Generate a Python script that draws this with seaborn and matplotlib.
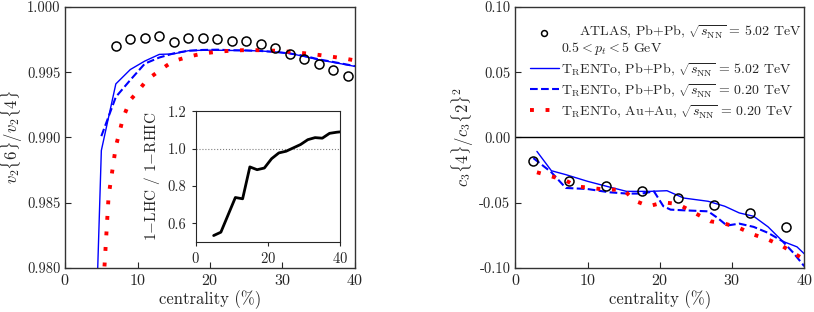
import numpy as np
import pandas as pd
import matplotlib
matplotlib.use('Agg')
import matplotlib.pyplot as plt
import seaborn as sns

sns.set_style('ticks')
plt.rcParams['font.family'] = 'serif'
plt.rcParams['font.serif'] = ['cmr10', 'DejaVu Serif']
plt.rcParams['mathtext.fontset'] = 'cm'
plt.rcParams['axes.formatter.use_mathtext'] = True
plt.rcParams['axes.unicode_minus'] = True

# ---- left panel: v2{6}/v2{4}
atlas_v2_x = [7, 9, 11, 13, 15, 17, 19, 21, 23, 25, 27, 29, 31, 33, 35, 37, 39]
atlas_v2_y = [0.99697, 0.99751, 0.99761, 0.99776, 0.99732, 0.99758, 0.99758, 0.99751,
              0.99738, 0.99735, 0.99713, 0.99684, 0.99641, 0.99598, 0.99562, 0.99514, 0.99468]

cent_v2 = [3, 5, 7, 9, 11, 13, 15, 17, 19, 21, 23, 25, 27, 29, 31, 33, 35, 37, 39, 40]
pbpb502_v2 = [0.953, 0.9890, 0.9941, 0.9952, 0.99585, 0.99636, 0.9964, 0.99664, 0.99668, 0.99668,
              0.99666, 0.99666, 0.99662, 0.99655, 0.99644, 0.99620, 0.99595, 0.99575, 0.99555, 0.99544]

cent_v2_dash = [5, 7, 9, 11, 13, 15, 17, 19, 21, 23, 25, 27, 29, 31, 33, 35, 37, 39, 40]
pbpb020_v2 = [0.9901, 0.9931, 0.9944, 0.99565, 0.99612, 0.99644, 0.99664, 0.99670, 0.99672, 0.99668,
              0.99666, 0.99662, 0.99655, 0.99643, 0.99625, 0.99598, 0.99578, 0.99557, 0.99546]

cent_v2_au = [5, 6, 7, 8, 9, 10, 11, 12, 13, 14, 15, 17, 19, 21, 23, 25, 27, 29, 31, 33, 35, 37, 39, 40]
auau020_v2 = [0.9760, 0.9855, 0.9893, 0.9915, 0.99287, 0.9935, 0.9942, 0.9947, 0.9951, 0.9955,
              0.99585, 0.99618, 0.99643, 0.99656, 0.99665, 0.99669, 0.99668, 0.99664, 0.99656,
              0.99645, 0.99632, 0.99617, 0.99600, 0.99590]

# inset: (1-LHC)/(1-RHIC)
inset_x = [5, 7, 9, 11, 13, 15, 17, 19, 21, 23, 25, 27, 29, 31, 33, 35, 37, 39, 40]
inset_y = [0.534, 0.552, 0.645, 0.738, 0.731, 0.902, 0.887, 0.896, 0.946, 0.977, 0.986,
           1.004, 1.022, 1.048, 1.059, 1.056, 1.082, 1.088, 1.090]

# ---- right panel: c3{4}/c3{2}^2
atlas_c3_x = [2.5, 7.5, 12.5, 17.5, 22.5, 27.5, 32.5, 37.5]
atlas_c3_y = [-0.0184, -0.0331, -0.0375, -0.0408, -0.0464, -0.0515, -0.0578, -0.0688]

cent_c3_solid = [3, 5, 7, 10, 12.7, 15.4, 18.7, 21, 23.3, 26.7, 29, 31, 33, 35, 37, 39, 40]
pbpb502_c3 = [-0.0107, -0.0255, -0.0285, -0.0336, -0.0375, -0.0413, -0.0413, -0.0408, -0.0464,
              -0.0489, -0.0527, -0.0578, -0.0604, -0.0685, -0.0795, -0.0838, -0.0891]

cent_c3_dash = [2.5, 5, 7, 10, 13, 15.5, 17.5, 19.2, 20.5, 21.5, 23.3, 26.7, 28, 29.3, 31, 33,
                35, 37, 38.5, 40]
pbpb020_c3 = [-0.0158, -0.0267, -0.0387, -0.0395, -0.042, -0.043, -0.043, -0.0413, -0.0527,
              -0.0553, -0.0558, -0.0566, -0.0616, -0.0675, -0.066, -0.0685, -0.0731, -0.0795,
              -0.0884, -0.0986]

cent_c3_au = [3, 5, 7, 8.5, 10.5, 12.5, 15, 16.5, 18.5, 20.5, 22.5, 25, 27, 29, 31, 33, 35, 37,
              38.5, 40]
auau020_c3 = [-0.0267, -0.0298, -0.033, -0.0375, -0.0387, -0.040, -0.040, -0.0484, -0.0527,
              -0.0497, -0.051, -0.0583, -0.0642, -0.066, -0.0693, -0.0744, -0.0782, -0.0833,
              -0.0884, -0.0935]

lab_atlas = (r'    ATLAS, Pb+Pb, $\sqrt{s_{\rm NN}}$ = 5.02 TeV' + '\n' +
             r'$0.5 < p_t < 5$ GeV')
trento = r'T$_{\rm R}$ENTo'
lab_502 = trento + r', Pb+Pb, $\sqrt{s_{\rm NN}}$ = 5.02 TeV'
lab_020 = trento + r', Pb+Pb, $\sqrt{s_{\rm NN}}$ = 0.20 TeV'
lab_au = trento + r', Au+Au, $\sqrt{s_{\rm NN}}$ = 0.20 TeV'

fig = plt.figure(figsize=(8.14, 3.12), dpi=100)
ax1 = fig.add_axes([0.080, 0.141, 0.356, 0.837])
ax2 = fig.add_axes([0.633, 0.141, 0.355, 0.837])

dot_style = (0, (1, 3))
label_fs = 12

# left
sns.lineplot(x=cent_v2, y=pbpb502_v2, ax=ax1, color='blue', lw=1.0, estimator=None, sort=False)
sns.lineplot(x=cent_v2_dash, y=pbpb020_v2, ax=ax1, color='blue', lw=1.5, ls='--',
             estimator=None, sort=False)
sns.lineplot(x=cent_v2_au, y=auau020_v2, ax=ax1, color='red', lw=2.8, ls=dot_style,
             estimator=None, sort=False)
ax1.plot(atlas_v2_x, atlas_v2_y, 'o', mfc='none', mec='black', ms=6.5, mew=1.1, zorder=5)
ax1.set_xlim(0, 40)
ax1.set_ylim(0.980, 1.000)
ax1.set_yticks([0.980, 0.985, 0.990, 0.995, 1.000])
ax1.yaxis.set_major_formatter(matplotlib.ticker.FormatStrFormatter('%.3f'))
ax1.set_xticks([0, 10, 20, 30, 40])
ax1.set_xlabel('centrality (%)', fontsize=label_fs, labelpad=2)
ax1.set_ylabel(r'$v_2\{6\}/v_2\{4\}$', fontsize=label_fs, labelpad=1)

ins = ax1.inset_axes([0.45, 0.10, 0.50, 0.50])
ins.axhline(1.0, color='gray', lw=0.8, ls=':')
sns.lineplot(x=inset_x, y=inset_y, ax=ins, color='black', lw=2.0, estimator=None, sort=False)
ins.set_xlim(0, 40)
ins.set_ylim(0.5, 1.2)
ins.set_xticks([0, 20, 40])
ins.set_yticks([0.6, 0.8, 1.0, 1.2])
ins.yaxis.set_major_formatter(matplotlib.ticker.FormatStrFormatter('%.1f'))
ins.tick_params(labelsize=10.5, direction='out', length=3)
ins.set_ylabel(r'1$-$LHC / 1$-$RHIC', fontsize=11)

# right
ax2.axhline(0, color='black', lw=1.0)
sns.lineplot(x=cent_c3_solid, y=pbpb502_c3, ax=ax2, color='blue', lw=1.0, estimator=None,
             sort=False, label=lab_502)
sns.lineplot(x=cent_c3_dash, y=pbpb020_c3, ax=ax2, color='blue', lw=1.5, ls='--',
             estimator=None, sort=False, label=lab_020)
sns.lineplot(x=cent_c3_au, y=auau020_c3, ax=ax2, color='red', lw=2.8, ls=dot_style,
             estimator=None, sort=False, label=lab_au)
ax2.plot(atlas_c3_x, atlas_c3_y, 'o', mfc='none', mec='black', ms=6.5, mew=1.1, zorder=5,
         label=lab_atlas)
ax2.set_xlim(0, 40)
ax2.set_ylim(-0.10, 0.10)
ax2.set_yticks([-0.10, -0.05, 0.00, 0.05, 0.10])
ax2.yaxis.set_major_formatter(matplotlib.ticker.FormatStrFormatter('%.2f'))
ax2.set_xticks([0, 10, 20, 30, 40])
ax2.set_xlabel('centrality (%)', fontsize=label_fs, labelpad=2)
ax2.set_ylabel(r'$c_3\{4\}/c_3\{2\}^2$', fontsize=label_fs, labelpad=2)

h, l = ax2.get_legend_handles_labels()
order = [3, 0, 1, 2]
leg = ax2.legend([h[i] for i in order], [l[i] for i in order], loc='upper right',
                 bbox_to_anchor=(1.03, 0.98), frameon=False, fontsize=10,
                 handlelength=2.15, handletextpad=0.12, borderaxespad=0.4,
                 labelspacing=0.3, markerscale=0.65)
t0 = leg.get_texts()[0]
t0.set_multialignment('left')
t0.set_linespacing(0.95)
# put the ATLAS marker next to the first text line
mk = leg.legend_handles[0]
mk.set_ydata([v + 5.0 for v in mk.get_ydata()])

for ax in (ax1, ax2):
    ax.tick_params(direction='in', length=4, top=False, right=False)
    ax.tick_params(axis='x', labelsize=11.5)
    ax.tick_params(axis='y', labelsize=10.5)
    for s in ax.spines.values():
        s.set_visible(True)
        s.set_color('#333333')
        s.set_linewidth(1.0)

fig.savefig('out.png', dpi=100)
